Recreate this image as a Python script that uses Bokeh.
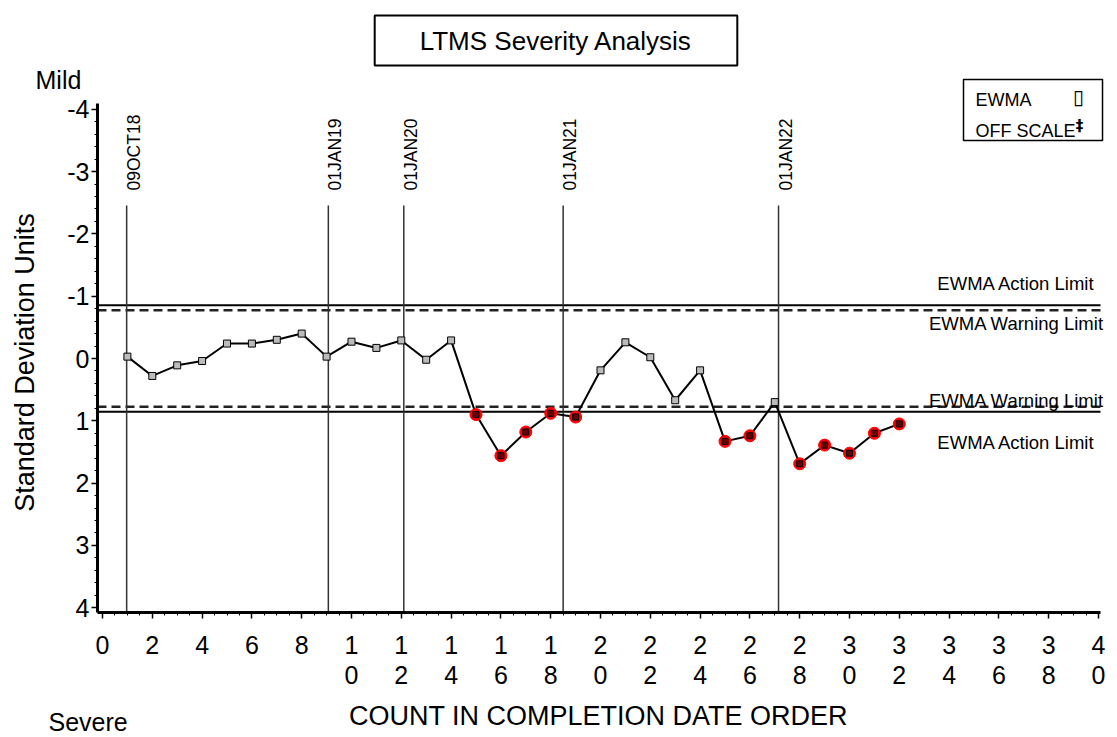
import numpy as np
from bokeh.plotting import figure
from bokeh.models import Range1d, Label, SingleIntervalTicker, LinearAxis
from bokeh.embed import file_html
from bokeh.resources import INLINE

# ---------------- data ----------------
count = list(range(1, 33))
ewma = [-0.03, 0.28, 0.11, 0.04, -0.24, -0.24, -0.30, -0.40, -0.03, -0.27,
        -0.17, -0.29, 0.02, -0.29, 0.90, 1.56, 1.18, 0.88, 0.94, 0.19,
        -0.26, -0.02, 0.67, 0.19, 1.33, 1.24, 0.70, 1.69, 1.39, 1.52,
        1.20, 1.05]
action_limits = [-0.855, 0.855]
warning_limits = [-0.775, 0.775]
date_positions = [0.97, 9.07, 12.1, 18.5, 27.15]
date_labels = ["09OCT18", "01JAN19", "01JAN20", "01JAN21", "01JAN22"]
x_ticks = list(range(0, 41, 2))
y_ticks = [-4, -3, -2, -1, 0, 1, 2, 3, 4]
title_text = "LTMS Severity Analysis"
x_title = "COUNT IN COMPLETION DATE ORDER"
y_title = "Standard Deviation Units"
limit_texts = ["EWMA Action Limit", "EWMA Warning Limit", "EWMA Warning Limit", "EWMA Action Limit"]
legend_texts = ["EWMA", "OFF SCALE"]

FONT = "Liberation Sans"

# canvas-pixel -> data helpers (used only to place annotations / layout)
X0, PXX = 102.0, 24.9
Y0, PXY = 358.0, 62.3
def dx(px):
    return (px - X0) / PXX
def dy(py):
    return (py - Y0) / PXY

W, H = 1110, 737
p = figure(width=W, height=H, output_backend="svg", toolbar_location=None,
           x_range=Range1d(dx(0), dx(W)), y_range=Range1d(dy(H), dy(0)),
           x_axis_type=None, y_axis_type=None,
           min_border=0, min_border_left=0, min_border_right=0,
           min_border_top=0, min_border_bottom=0)
p.outline_line_color = None
p.grid.visible = False
p.background_fill_color = "white"
p.border_fill_color = "white"

# axes placed at fixed locations inside the canvas
x_left, x_right = dx(97), dx(1100)
y_top, y_bottom = dy(103), dy(612)
xaxis = LinearAxis(fixed_location=y_bottom, bounds=(x_left, x_right),
                   ticker=SingleIntervalTicker(interval=2, num_minor_ticks=4))
yaxis = LinearAxis(fixed_location=x_left, bounds=(y_top, y_bottom),
                   ticker=SingleIntervalTicker(interval=1, num_minor_ticks=5))
xaxis.major_label_overrides = {t: "\n".join(str(t)) for t in x_ticks}
yaxis.major_label_overrides = {t: str(t) for t in y_ticks}
for ax in (xaxis, yaxis):
    ax.axis_line_width = 3
    ax.axis_line_color = "black"
    ax.major_tick_line_color = "black"
    ax.minor_tick_line_color = "black"
    ax.major_tick_line_width = 1.5
    ax.minor_tick_line_width = 1
    ax.major_tick_in = 0
    ax.minor_tick_in = 0
    ax.major_tick_out = 6
    ax.minor_tick_out = 3
    ax.major_label_text_font = FONT
    ax.major_label_text_font_size = "25px"
    ax.major_label_text_color = "black"
xaxis.major_label_standoff = 12
xaxis.major_label_text_line_height = 1.1
yaxis.major_label_standoff = 2
p.add_layout(xaxis, "below")
p.add_layout(yaxis, "left")

# axis titles
p.add_layout(Label(x=dx(598), y=dy(715), text=x_title, text_align="center",
                   text_baseline="middle", text_font=FONT, text_font_size="27px",
                   text_color="black"))
p.add_layout(Label(x=dx(24), y=dy(362), text=y_title, angle=np.pi / 2,
                   text_align="center", text_baseline="middle",
                   text_font=FONT, text_font_size="27px", text_color="black"))

# limit lines
for v in action_limits:
    p.segment(x0=[x_left], y0=[v], x1=[x_right], y1=[v], line_color="black", line_width=2)
for v in warning_limits:
    p.segment(x0=[x_left], y0=[v], x1=[x_right], y1=[v], line_color="#222222",
              line_width=2.5, line_dash="9 5")

# date reference lines
top_val = dy(205)
p.segment(x0=date_positions, y0=[top_val] * len(date_positions),
          x1=date_positions, y1=[y_bottom] * len(date_positions),
          line_color="#333333", line_width=1.5)
for xp, lab in zip(date_positions, date_labels):
    p.add_layout(Label(x=xp + 7 / PXX, y=dy(190), text=lab, angle=np.pi / 2,
                       text_align="left", text_baseline="middle",
                       text_font=FONT, text_font_size="17.5px", text_color="black"))

# series
p.line(count, ewma, line_color="black", line_width=2)
red_x = [c for c, v in zip(count, ewma) if abs(v) > warning_limits[1]]
red_y = [v for v in ewma if abs(v) > warning_limits[1]]
p.scatter(count, ewma, marker="square", size=7, fill_color="#bbbbbb",
          line_color="black", line_width=1)
p.scatter(red_x, red_y, marker="circle", size=12, fill_color="red", line_color="red")
p.scatter(red_x, red_y, marker="square", size=6, fill_color="#660000",
          line_color="black", line_width=1)

# limit labels
limit_y_px = [283, 323, 400, 442]
for txt, ypx in zip(limit_texts, limit_y_px):
    p.add_layout(Label(x=dx(1016), y=dy(ypx), text=txt, text_align="center",
                       text_baseline="middle", text_font=FONT, text_font_size="18.5px",
                       text_color="black"))

# title box
p.add_layout(Label(x=dx(555.5), y=dy(40), text=title_text, text_align="center",
                   text_baseline="middle", text_font=FONT, text_font_size="26px",
                   text_color="black", border_line_color="black", border_line_width=2,
                   background_fill_color="white",
                   padding=dict(left=45, right=45, top=10, bottom=10)))

# Mild / Severe
p.add_layout(Label(x=dx(35), y=dy(79), text="Mild", text_align="left",
                   text_baseline="middle", text_font=FONT, text_font_size="25px",
                   text_color="black"))
p.add_layout(Label(x=dx(48), y=dy(721), text="Severe", text_align="left",
                   text_baseline="middle", text_font=FONT, text_font_size="25px",
                   text_color="black"))

# legend box
p.add_layout(Label(x=dx(963), y=dy(109.5), text="\n".join(legend_texts), text_align="left",
                   text_baseline="middle", text_font=FONT, text_font_size="18px",
                   text_line_height=1.55, text_color="black",
                   border_line_color="black", border_line_width=1.5,
                   background_fill_color="white",
                   padding=dict(left=12, right=27, top=10, bottom=0)))
p.add_layout(Label(x=dx(1078), y=dy(96), text="\u25af", text_align="center",
                   text_baseline="middle", text_font="DejaVu Sans", text_font_size="20px",
                   text_color="black"))
p.add_layout(Label(x=dx(1079), y=dy(125), text="\u2021", text_align="center",
                   text_baseline="middle", text_font="DejaVu Sans", text_font_size="15px",
                   text_font_style="bold", text_color="black"))

open("out.html", "w").write(file_html(p, INLINE))
